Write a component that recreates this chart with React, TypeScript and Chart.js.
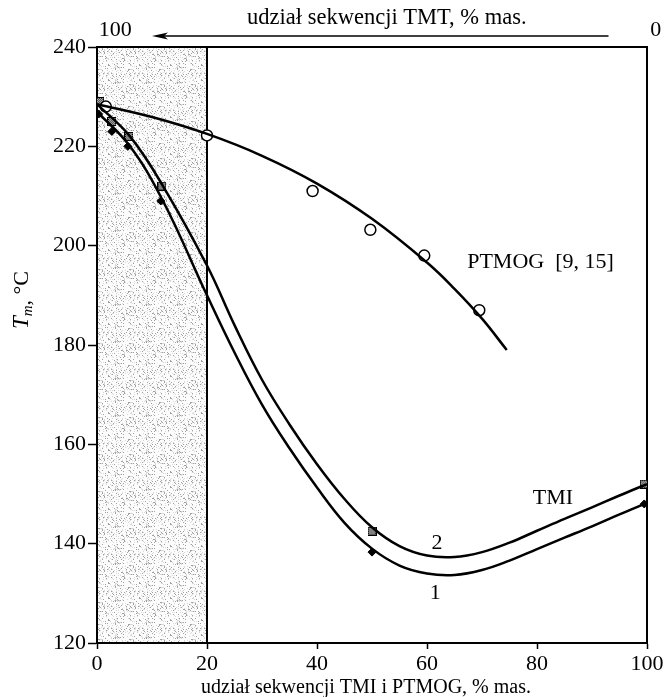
import React, { useEffect, useRef } from "react";
import { Chart, registerables } from "chart.js";
Chart.register(...registerables);

// ---- measured points ----
const tmi2X = [0.5, 2.7, 5.8, 11.8, 50, 99.5];
const tmi2Y = [229, 225, 222, 212, 142.5, 152];
const tmi1X = [0.3, 2.7, 5.6, 11.6, 50, 99.5];
const tmi1Y = [226.5, 223, 220, 209, 138.3, 148];
const ptmogX = [1.6, 20, 39.2, 49.7, 59.5, 69.5];
const ptmogY = [228, 222.2, 211, 203.2, 198, 187];

// ---- fitted curves ----
const curve2X = [0, 6, 12, 20, 25, 30, 35, 40, 45, 50, 55, 60, 65, 70, 75, 80, 85, 90, 95, 100];
const curve2Y = [228.5, 222, 212, 196, 184, 173, 164, 156, 149, 143.3, 139.5, 137.6, 137.3, 138.3, 140.2, 142.6, 145, 147.3, 149.7, 152];
const curve1X = [0, 6, 12, 20, 25, 30, 35, 40, 45, 50, 55, 60, 65, 70, 75, 80, 85, 90, 95, 100];
const curve1Y = [227, 220, 209, 190, 178.5, 168, 159.2, 151.3, 144.2, 139, 135.6, 134, 133.7, 134.7, 136.6, 138.9, 141.2, 143.5, 145.9, 148.2];
const curvePX = [0, 10, 20, 30, 40, 50, 60, 65, 70, 74.5];
const curvePY = [228.5, 225.9, 222.5, 218.1, 212.5, 205.4, 196.6, 191.3, 185.3, 179];

// ---- axes ----
const xTicks = [0, 20, 40, 60, 80, 100];
const yTicks = [120, 140, 160, 180, 200, 220, 240];
const shadeRange = [0, 20];
const topAxisLabels = ["100", "0"];

const topTitle = "udział sekwencji TMT, % mas.";
const bottomTitle = "udział sekwencji TMI i PTMOG, % mas.";
const labelPTMOG = "PTMOG  [9, 15]";
const labelTMI = "TMI";

const SERIF = "'Liberation Serif', 'DejaVu Serif', serif";

const toXY = (xs: number[], ys: number[]) => xs.map((x, i) => ({ x, y: ys[i] }));

function makeSquareMarker(): HTMLCanvasElement {
  const c = document.createElement("canvas");
  c.width = 9;
  c.height = 9;
  const g = c.getContext("2d")!;
  g.fillStyle = "#000";
  g.fillRect(0, 0, 9, 9);
  g.fillStyle = "#fff";
  for (let i = 1; i < 8; i++)
    for (let j = 1; j < 8; j++) if ((i + j) % 2 === 0) g.fillRect(i, j, 1, 1);
  return c;
}

function makeStipple(ctx: CanvasRenderingContext2D): CanvasPattern | string {
  const W = 31;
  const H = 37;
  const c = document.createElement("canvas");
  c.width = W;
  c.height = H;
  const g = c.getContext("2d")!;
  g.fillStyle = "#fcfcfc";
  g.fillRect(0, 0, W, H);
  for (let i = 0; i < W; i++)
    for (let j = 0; j < H; j++) {
      const v = (i * 37 + j * 91 + ((i * j) % 11) * 13) % 23;
      if (v < 2) {
        g.fillStyle = "#a0a0a0";
        g.fillRect(i, j, 1, 1);
      } else if (v < 5) {
        g.fillStyle = "#d8d8d8";
        g.fillRect(i, j, 1, 1);
      }
    }
  return ctx.createPattern(c, "repeat") || "#e8e8e8";
}

const decorPlugin = {
  id: "decor",
  beforeDatasetsDraw(chart: any) {
    const { ctx, chartArea: a, scales } = chart;
    const xs = scales.x;
    ctx.save();
    const x0 = xs.getPixelForValue(shadeRange[0]);
    const x1 = xs.getPixelForValue(shadeRange[1]);
    ctx.fillStyle = makeStipple(ctx);
    ctx.fillRect(x0 + 1, a.top + 1, x1 - x0 - 1, a.bottom - a.top - 2);
    ctx.strokeStyle = "#000";
    ctx.lineWidth = 2;
    ctx.beginPath();
    ctx.moveTo(x1, a.top);
    ctx.lineTo(x1, a.bottom);
    ctx.moveTo(a.left - 1, a.top);
    ctx.lineTo(a.right, a.top);
    ctx.lineTo(a.right, a.bottom);
    ctx.stroke();
    ctx.restore();
  },
  afterDraw(chart: any) {
    const { ctx, chartArea: a, scales } = chart;
    const xs = scales.x;
    const ys = scales.y;
    ctx.save();
    ctx.fillStyle = "#000";
    ctx.textBaseline = "middle";
    ctx.font = `22px ${SERIF}`;

    ctx.textAlign = "left";
    ctx.fillText(labelPTMOG, xs.getPixelForValue(67.3), ys.getPixelForValue(196.7));
    ctx.textAlign = "center";
    ctx.fillText(labelTMI, xs.getPixelForValue(82.9), ys.getPixelForValue(149.2));
    ctx.fillText("2", xs.getPixelForValue(61.8), ys.getPixelForValue(140.1));
    ctx.fillText("1", xs.getPixelForValue(61.5), ys.getPixelForValue(130));

    // top reversed axis
    ctx.fillText(topAxisLabels[0], xs.getPixelForValue(3.3), a.top - 17);
    ctx.fillText(topAxisLabels[1], xs.getPixelForValue(101.6), a.top - 17);
    ctx.font = `22.5px ${SERIF}`;
    ctx.fillText(topTitle, xs.getPixelForValue(52.7), a.top - 29);
    const ay = a.top - 11;
    const ax0 = xs.getPixelForValue(10);
    const ax1 = xs.getPixelForValue(93);
    ctx.strokeStyle = "#000";
    ctx.lineWidth = 1.5;
    ctx.beginPath();
    ctx.moveTo(ax0 + 10, ay);
    ctx.lineTo(ax1, ay);
    ctx.stroke();
    ctx.beginPath();
    ctx.moveTo(ax0, ay);
    ctx.lineTo(ax0 + 16, ay - 3.5);
    ctx.lineTo(ax0 + 12, ay);
    ctx.lineTo(ax0 + 16, ay + 3.5);
    ctx.closePath();
    ctx.fill();

    // bottom title
    ctx.font = `20px ${SERIF}`;
    ctx.fillText(bottomTitle, 366, 688);

    // y title: T_m, °C
    ctx.translate(22, 300);
    ctx.rotate(-Math.PI / 2);
    ctx.textAlign = "left";
    const fT = `italic 23px ${SERIF}`;
    const fM = `italic 15px ${SERIF}`;
    const fR = `22px ${SERIF}`;
    ctx.font = fT;
    const wT = ctx.measureText("T").width;
    ctx.font = fM;
    const wM = ctx.measureText("m").width;
    ctx.font = fR;
    const wC = ctx.measureText(", °C").width;
    let x = -(wT + wM + wC) / 2;
    ctx.font = fT;
    ctx.fillText("T", x, 0);
    x += wT;
    ctx.font = fM;
    ctx.fillText("m", x, 6);
    x += wM;
    ctx.font = fR;
    ctx.fillText(",", x, 2);
    x += ctx.measureText(", ").width;
    ctx.fillText("°C", x, 0);
    ctx.restore();
  },
};

export default function App() {
  const ref = useRef<HTMLCanvasElement | null>(null);
  useEffect(() => {
    if (!ref.current) return;
    const sq = makeSquareMarker();
    const lineDs = (data: any) => ({
      type: "line" as const,
      data,
      borderColor: "#000",
      borderWidth: 2.5,
      pointRadius: 0,
      tension: 0.4,
      fill: false,
    });
    const chart = new Chart(ref.current, {
      type: "line",
      data: {
        datasets: [
          lineDs(toXY(curvePX, curvePY)),
          lineDs(toXY(curve2X, curve2Y)),
          lineDs(toXY(curve1X, curve1Y)),
          {
            data: toXY(ptmogX, ptmogY),
            showLine: false,
            pointStyle: "circle",
            pointRadius: 5.5,
            pointBackgroundColor: "#fff",
            pointBorderColor: "#000",
            pointBorderWidth: 1.5,
          },
          {
            data: toXY(tmi2X, tmi2Y),
            showLine: false,
            pointStyle: sq as any,
            pointRadius: 4.5,
          },
          {
            data: toXY(tmi1X, tmi1Y),
            showLine: false,
            pointStyle: "rectRot",
            pointRadius: 4,
            pointBackgroundColor: "#000",
            pointBorderColor: "#000",
            pointBorderWidth: 1,
          },
        ] as any,
      },
      options: {
        responsive: false,
        animation: false,
        devicePixelRatio: 1,
        layout: { padding: { top: 47, right: 19, left: 0, bottom: 0 } },
        plugins: { legend: { display: false }, tooltip: { enabled: false } },
        scales: {
          x: {
            type: "linear",
            min: 0,
            max: 100,
            afterBuildTicks: (s: any) => {
              s.ticks = xTicks.map((v) => ({ value: v }));
            },
            afterFit: (s: any) => {
              s.height = 54;
            },
            ticks: { font: { family: SERIF, size: 22 }, color: "#000", padding: 2, maxRotation: 0 },
            grid: { drawOnChartArea: false, drawTicks: true, tickLength: 6, tickColor: "#000", tickWidth: 1.5 },
            border: { display: true, color: "#000", width: 2 },
          },
          y: {
            type: "linear",
            min: 120,
            max: 240,
            afterBuildTicks: (s: any) => {
              s.ticks = yTicks.map((v) => ({ value: v }));
            },
            afterFit: (s: any) => {
              s.width = 97;
            },
            ticks: { font: { family: SERIF, size: 22 }, color: "#000", padding: 2 },
            grid: { drawOnChartArea: false, drawTicks: true, tickLength: 9, tickColor: "#000", tickWidth: 1.5 },
            border: { display: true, color: "#000", width: 2 },
          },
        },
      } as any,
      plugins: [decorPlugin],
    });
    return () => chart.destroy();
  }, []);
  return (
    <div style={{ position: "absolute", left: 0, top: 0, width: 666, height: 697, background: "#fff" }}>
      <canvas ref={ref} width={666} height={697} style={{ display: "block", width: 666, height: 697 }} />
    </div>
  );
}
